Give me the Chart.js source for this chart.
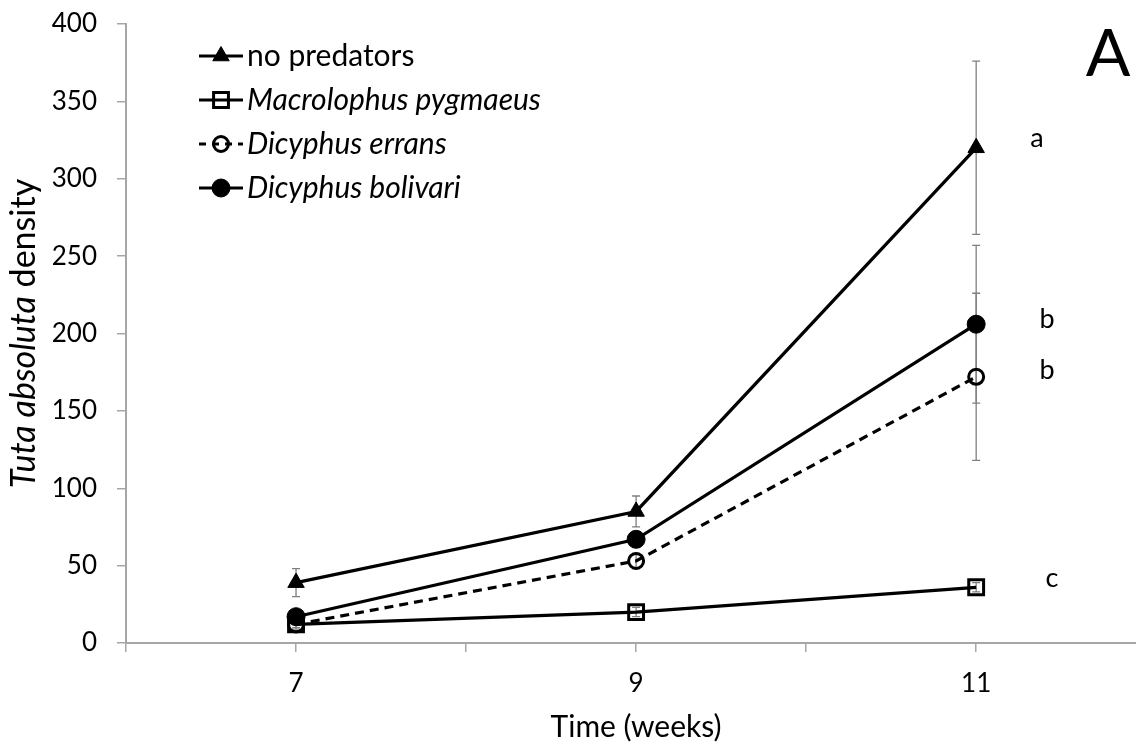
<!DOCTYPE html>
<html>
<head>
<meta charset="utf-8">
<title>Tuta absoluta density</title>
<script src="https://cdn.jsdelivr.net/npm/chart.js@4/dist/chart.umd.min.js"></script>
<style>
    html, body { margin: 0; padding: 0; background: #fff; }
    #wrap { width: 1136px; height: 747px; }
</style>
</head>
<body>
<div id="wrap"><canvas id="chart" width="1136" height="747"></canvas></div>
<script>
// weeks of sampling
const weeks = [7, 9, 11];
const xTicks = [6, 7, 8, 9, 10, 11];
const yTicks = [0, 50, 100, 150, 200, 250, 300, 350, 400];

// mean density and standard error per treatment
const noPredators = [39, 85, 320];
const noPredatorsErr = [9, 10, 56];
const macrolophus = [12, 20, 36];
const macrolophusErr = [2, 3, 3];
const errans = [12, 53, 172];
const erransErr = [3, 5, 54];
const bolivari = [17, 67, 206];
const bolivariErr = [3, 5, 51];

const seriesNames = ['no predators', 'Macrolophus pygmaeus', 'Dicyphus errans', 'Dicyphus bolivari'];
const italicNames = [false, true, true, true];
const letters = ['a', 'b', 'b', 'c'];
const letterValues = [326, 209, 176, 42];

const FONT = 'Lato, "Open Sans", sans-serif';

function points(values) {
    return weeks.map((w, i) => ({ x: w, y: values[i] }));
}

const errors = [noPredatorsErr, macrolophusErr, erransErr, bolivariErr];

const datasets = [
    {
        label: seriesNames[0],
        data: points(noPredators),
        pointStyle: 'triangle',
        pointRadius: 9.5,
        pointBackgroundColor: '#000',
        pointBorderColor: '#000',
        pointBorderWidth: 1
    },
    {
        label: seriesNames[1],
        data: points(macrolophus),
        pointStyle: 'rect',
        pointRadius: 10.5,
        pointBackgroundColor: 'rgba(0,0,0,0)',
        pointBorderColor: '#000',
        pointBorderWidth: 3
    },
    {
        label: seriesNames[2],
        data: points(errans),
        pointStyle: 'circle',
        pointRadius: 7.5,
        pointBackgroundColor: 'rgba(0,0,0,0)',
        pointBorderColor: '#000',
        pointBorderWidth: 3,
        borderDash: [9, 6]
    },
    {
        label: seriesNames[3],
        data: points(bolivari),
        pointStyle: 'circle',
        pointRadius: 9,
        pointBackgroundColor: '#000',
        pointBorderColor: '#000',
        pointBorderWidth: 1
    }
].map(ds => Object.assign({
    showLine: true,
    borderColor: '#000',
    borderWidth: 3.2,
    pointHoverRadius: 0,
    tension: 0
}, ds));

// grey error bars behind the lines
const errorBars = {
    id: 'errorBars',
    beforeDatasetsDraw(chart) {
        const { ctx, scales: { x, y } } = chart;
        ctx.save();
        ctx.strokeStyle = '#7f7f7f';
        ctx.lineWidth = 1.3;
        chart.data.datasets.forEach((ds, i) => {
            ds.data.forEach((p, j) => {
                const e = errors[i][j];
                const px = x.getPixelForValue(p.x);
                const top = y.getPixelForValue(p.y + e);
                const bot = y.getPixelForValue(p.y - e);
                ctx.beginPath();
                ctx.moveTo(px, top);
                ctx.lineTo(px, bot);
                ctx.moveTo(px - 4, top);
                ctx.lineTo(px + 4, top);
                ctx.moveTo(px - 4, bot);
                ctx.lineTo(px + 4, bot);
                ctx.stroke();
            });
        });
        ctx.restore();
    }
};

function drawMarker(ctx, ds, cx, cy) {
    ctx.save();
    ctx.fillStyle = ds.pointBackgroundColor;
    ctx.strokeStyle = ds.pointBorderColor;
    ctx.lineWidth = ds.pointBorderWidth;
    const r = ds.pointRadius;
    ctx.beginPath();
    if (ds.pointStyle === 'triangle') {
        ctx.moveTo(cx, cy - r);
        ctx.lineTo(cx + r * 0.866, cy + r * 0.5);
        ctx.lineTo(cx - r * 0.866, cy + r * 0.5);
        ctx.closePath();
    } else if (ds.pointStyle === 'rect') {
        const s = r / Math.SQRT2;
        ctx.rect(cx - s, cy - s, 2 * s, 2 * s);
    } else {
        ctx.arc(cx, cy, r, 0, Math.PI * 2);
    }
    ctx.fill();
    ctx.stroke();
    ctx.restore();
}

// legend, significance letters, panel letter and axis titles
const annotations = {
    id: 'annotations',
    afterDraw(chart) {
        const { ctx, scales: { x, y }, chartArea } = chart;
        ctx.save();
        ctx.fillStyle = '#000';
        ctx.textBaseline = 'middle';

        // legend
        chart.data.datasets.forEach((ds, i) => {
            const ly = 56 + i * 44;
            ctx.save();
            ctx.strokeStyle = '#000';
            ctx.lineWidth = 3;
            if (ds.borderDash) ctx.setLineDash([7, 6]);
            ctx.beginPath();
            ctx.moveTo(199, ly);
            ctx.lineTo(243, ly);
            ctx.stroke();
            ctx.restore();
            drawMarker(ctx, ds, 221, ly);
            ctx.font = (italicNames[i] ? 'italic ' : '') + '30px ' + FONT;
            ctx.textAlign = 'left';
            ctx.fillText(ds.label, 247, ly);
        });

        // significance letters next to week 11
        ctx.font = '27px ' + FONT;
        ctx.textAlign = 'center';
        const letterX = [1037, 1047, 1047, 1052];
        letters.forEach((l, i) => {
            ctx.fillText(l, letterX[i], y.getPixelForValue(letterValues[i]));
        });

        // panel letter
        ctx.font = '66px ' + FONT;
        ctx.textBaseline = 'alphabetic';
        ctx.fillText('A', 1108, 76);

        // x axis title
        ctx.textBaseline = 'middle';
        ctx.font = '30px ' + FONT;
        ctx.fillText('Time (weeks)', (x.getPixelForValue(6) + x.getPixelForValue(12)) / 2, 727);

        // y axis title, italic genus and species
        ctx.translate(24, (chartArea.top + chartArea.bottom) / 2);
        ctx.rotate(-Math.PI / 2);
        const partA = 'Tuta absoluta';
        const partB = ' density';
        ctx.font = 'italic 34px ' + FONT;
        const wA = ctx.measureText(partA).width;
        ctx.font = '34px ' + FONT;
        const wB = ctx.measureText(partB).width;
        const start = -(wA + wB) / 2;
        ctx.textAlign = 'left';
        ctx.font = 'italic 34px ' + FONT;
        ctx.fillText(partA, start, 0);
        ctx.font = '34px ' + FONT;
        ctx.fillText(partB, start + wA, 0);
        ctx.restore();
    }
};

new Chart(document.getElementById('chart'), {
    type: 'scatter',
    data: { datasets },
    options: {
        responsive: false,
        animation: false,
        layout: { autoPadding: false, padding: { top: 24, right: 0, bottom: 0, left: 0 } },
        plugins: {
            legend: { display: false },
            tooltip: { enabled: false }
        },
        scales: {
            x: {
                type: 'linear',
                min: 6,
                max: 11.94,
                afterBuildTicks: s => { s.ticks = xTicks.map(v => ({ value: v })); },
                afterFit: s => { s.height = 104; s.paddingLeft = 0; s.paddingRight = 0; },
                grid: { drawOnChartArea: false, drawTicks: true, tickLength: 9, color: '#a6a6a6', lineWidth: 1.5 },
                border: { color: '#a6a6a6', width: 2 },
                ticks: {
                    color: '#000',
                    font: { family: FONT, size: 26 },
                    padding: 16,
                    maxRotation: 0,
                    autoSkip: false,
                    callback: v => (weeks.includes(v) ? String(v) : '')
                }
            },
            y: {
                min: 0,
                max: 400,
                afterBuildTicks: s => { s.ticks = yTicks.map(v => ({ value: v })); },
                afterFit: s => { s.width = 126; s.paddingTop = 0; s.paddingBottom = 0; },
                grid: { drawOnChartArea: false, drawTicks: true, tickLength: 9, color: '#a6a6a6', lineWidth: 1.5 },
                border: { color: '#a6a6a6', width: 2 },
                ticks: {
                    color: '#000',
                    font: { family: FONT, size: 26 },
                    padding: 20
                }
            }
        }
    },
    plugins: [errorBars, annotations]
});
</script>
</body>
</html>
